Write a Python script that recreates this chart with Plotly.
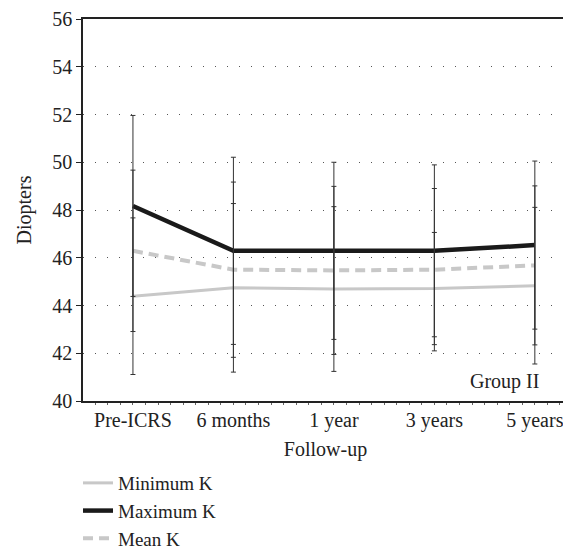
import plotly.graph_objects as go

categories = ["Pre-ICRS", "6 months", "1 year", "3 years", "5 years"]
min_k = [44.39, 44.74, 44.69, 44.71, 44.83]
min_k_sd = [3.28, 3.53, 3.45, 2.35, 3.28]
max_k = [48.17, 46.29, 46.29, 46.29, 46.53]
max_k_sd = [3.79, 3.92, 3.71, 3.60, 3.52]
mean_k = [46.29, 45.50, 45.47, 45.50, 45.68]
mean_k_sd = [3.38, 3.67, 3.52, 3.40, 3.33]
y_ticks = [40, 42, 44, 46, 48, 50, 52, 54, 56]

xs = list(range(len(categories)))
FONT = "'Liberation Serif', 'Times New Roman', Times, serif"
FS = 20

fig = go.Figure()

fig.add_trace(go.Scatter(x=xs, y=min_k, mode="lines", name="Minimum K",
                         legendgroup="g0",
                         line=dict(color="#c8c8c8", width=3)))
fig.add_trace(go.Scatter(x=xs, y=max_k, mode="lines", name="Maximum K",
                         legendgroup="g1",
                         line=dict(color="#1a1a1a", width=4.5)))
fig.add_trace(go.Scatter(x=xs, y=mean_k, mode="lines", name="Mean K",
                         legendgroup="g2",
                         line=dict(color="#c8c8c8", width=4, dash="10px,6px")))

for vals, sds in [(min_k, min_k_sd), (max_k, max_k_sd), (mean_k, mean_k_sd)]:
    fig.add_trace(go.Scatter(x=xs, y=vals, mode="markers", showlegend=False,
                             marker=dict(size=0.1, color="rgba(0,0,0,0)"),
                             error_y=dict(type="data", array=sds, visible=True,
                                          color="#333333", thickness=1, width=2.5),
                             hoverinfo="skip"))

fig.add_annotation(x=3.70, y=40.8, text="Group II", showarrow=False,
                   font=dict(family=FONT, size=FS, color="#222"))

# page body has an 8px default margin, so the figure is sized to fit inside
fig.update_layout(
    width=563, height=541,
    margin=dict(l=75, r=3, t=11, b=148, autoexpand=False),
    paper_bgcolor="white", plot_bgcolor="white",
    font=dict(family=FONT, size=FS, color="#222"),
    showlegend=True,
    legend=dict(x=-0.0103, y=-0.165, xanchor="left", yanchor="top",
                orientation="v", font=dict(family=FONT, size=19),
                tracegroupgap=0, bgcolor="rgba(0,0,0,0)"),
    xaxis=dict(range=[-0.497, 4.33], tickvals=xs, ticktext=categories,
               showgrid=False, zeroline=False, showline=True, linecolor="#222",
               linewidth=1.5, mirror=True, ticks="", ticklen=0,
               minor=dict(dtick=0.125, tick0=0, ticks="outside", ticklen=2,
                          tickcolor="#666", showgrid=False),
               title=dict(text="Follow-up", standoff=11,
                          font=dict(family=FONT, size=FS))),
    yaxis=dict(range=[40, 56], tickvals=y_ticks, showgrid=True,
               gridcolor="#555", griddash="1px,11px", gridwidth=1,
               zeroline=False, showline=True, linecolor="#222", linewidth=1.5,
               mirror=True, ticks="outside", ticklen=5, tickcolor="#222",
               title=dict(text="Diopters", standoff=15,
                          font=dict(family=FONT, size=FS))),
)

fig.write_html("out.html")
